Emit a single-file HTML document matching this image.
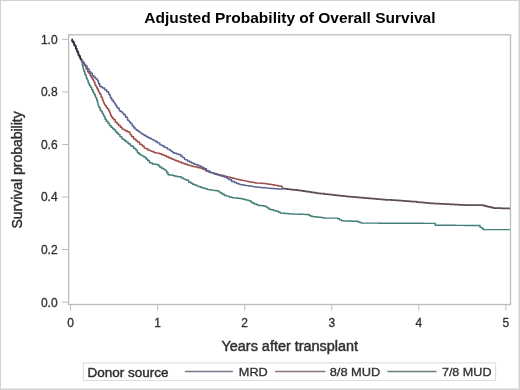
<!DOCTYPE html>
<html><head><meta charset="utf-8"><style>
html,body{margin:0;padding:0;background:#fff;}
svg{display:block;filter:blur(0.4px);}
text{font-family:"Liberation Sans",sans-serif;}
</style></head><body>
<svg width="520" height="390" viewBox="0 0 520 390">
<rect x="0" y="0" width="520" height="390" fill="#fff"/>
<line x1="518.5" y1="0" x2="518.5" y2="390" stroke="#e8e8e8"/>
<line x1="0" y1="388.5" x2="520" y2="388.5" stroke="#e8e8e8"/>
<rect x="0.5" y="0.5" width="519" height="389" fill="none" stroke="#d2d2d2" stroke-width="1"/>
<text x="144.3" y="22.6" font-size="15.5" font-weight="bold" fill="#000" textLength="291.2" lengthAdjust="spacingAndGlyphs">Adjusted Probability of Overall Survival</text>
<rect x="68.6" y="34.8" width="441.9" height="269.7" fill="none" stroke="#bcbcbc" stroke-width="1.3"/>
<g stroke="#bcbcbc" stroke-width="1"><line x1="62" y1="39.3" x2="68.5" y2="39.3"/><line x1="62" y1="91.9" x2="68.5" y2="91.9"/><line x1="62" y1="144.5" x2="68.5" y2="144.5"/><line x1="62" y1="197.0" x2="68.5" y2="197.0"/><line x1="62" y1="249.6" x2="68.5" y2="249.6"/><line x1="62" y1="302.2" x2="68.5" y2="302.2"/><line x1="70.6" y1="304.5" x2="70.6" y2="310.5"/><line x1="157.7" y1="304.5" x2="157.7" y2="310.5"/><line x1="244.7" y1="304.5" x2="244.7" y2="310.5"/><line x1="331.8" y1="304.5" x2="331.8" y2="310.5"/><line x1="418.8" y1="304.5" x2="418.8" y2="310.5"/><line x1="505.9" y1="304.5" x2="505.9" y2="310.5"/></g>
<g fill="none" stroke-width="1.45" stroke-linejoin="round" style="filter:blur(0.35px)">
<polyline points="81.20,59.60 81.42,59.60 81.42,61.33 81.63,61.33 81.79,61.33 81.79,62.61 81.95,62.61 82.28,62.61 82.28,65.20 82.60,65.20 82.72,65.20 82.72,66.23 82.85,66.23 83.11,66.23 83.11,68.43 83.38,68.43 83.59,68.43 83.59,70.20 83.80,70.20 84.03,70.20 84.03,71.40 84.26,71.40 84.76,71.40 84.76,73.97 85.26,73.97 85.48,73.97 85.48,75.10 85.70,75.10 86.29,75.10 86.29,77.92 86.88,77.92 87.19,77.92 87.19,79.40 87.50,79.40 87.70,79.40 87.70,80.73 87.89,80.73 88.25,80.73 88.25,83.10 88.60,83.10 89.28,83.10 89.28,85.32 89.96,85.32 90.23,85.32 90.23,86.20 90.50,86.20 90.83,86.20 90.83,87.52 91.16,87.52 91.73,87.52 91.73,89.80 92.30,89.80 92.86,89.80 92.86,91.96 93.41,91.96 93.81,91.96 93.81,93.50 94.20,93.50 94.52,93.50 94.52,94.82 94.84,94.82 95.42,94.82 95.42,97.20 96.00,97.20 96.15,97.20 96.15,97.95 96.29,97.95 96.75,97.95 96.75,100.30 97.20,100.30 97.48,100.30 97.48,102.73 97.77,102.73 97.98,102.73 97.98,104.60 98.20,104.60 98.45,104.60 98.45,105.88 98.70,105.88 99.05,105.88 99.05,107.70 99.40,107.70 100.19,107.70 100.19,110.33 100.99,110.33 101.34,110.33 101.34,111.50 101.70,111.50 102.26,111.50 102.26,113.39 102.82,113.39 103.41,113.39 103.41,115.40 104.00,115.40 104.33,115.40 104.33,117.09 104.67,117.09 105.08,117.09 105.08,119.20 105.50,119.20 106.28,119.20 106.28,121.16 107.06,121.16 107.83,121.16 107.83,123.10 108.60,123.10 109.40,123.10 109.40,125.40 110.20,125.40 111.06,125.40 111.06,127.17 111.91,127.17 112.56,127.17 112.56,128.50 113.20,128.50 113.86,128.50 113.86,129.82 114.52,129.82 115.46,129.82 115.46,131.70 116.40,131.70 117.10,131.70 117.10,133.24 117.81,133.24 118.37,133.24 118.37,134.48 118.94,134.48 119.95,134.48 119.95,136.68 120.95,136.68 121.88,136.68 121.88,138.70 122.80,138.70 123.32,138.70 123.32,139.53 123.84,139.53 124.66,139.53 124.66,140.83 125.48,140.83 126.25,140.83 126.25,142.06 127.02,142.06 128.11,142.06 128.11,143.80 129.20,143.80 130.19,143.80 130.19,145.40 131.17,145.40 131.75,145.40 131.75,146.34 132.32,146.34 133.54,146.34 133.54,148.32 134.76,148.32 135.18,148.32 135.18,149.00 135.60,149.00 136.13,149.00 136.13,150.55 136.66,150.55 137.43,150.55 137.43,152.80 138.20,152.80 139.10,152.80 139.10,154.20 140.00,154.20 140.95,154.20 140.95,155.36 141.91,155.36 142.34,155.36 142.34,155.89 142.77,155.89 143.94,155.89 143.94,157.30 145.10,157.30 145.99,157.30 145.99,159.04 146.88,159.04 147.61,159.04 147.61,160.48 148.34,160.48 149.32,160.48 149.32,162.40 150.30,162.40 150.88,162.40 150.88,163.02 151.46,163.02 152.38,163.02 152.38,164.00 153.30,164.00 154.33,164.00 154.33,164.25 155.37,164.25 156.38,164.25 156.38,164.50 157.40,164.50 158.02,164.50 158.02,165.51 158.65,165.51 159.57,165.51 159.57,167.00 160.50,167.00 161.56,167.00 161.56,168.29 162.61,168.29 163.28,168.29 163.28,169.10 163.95,169.10 164.77,169.10 164.77,170.10 165.60,170.10 165.85,170.10 165.85,170.85 166.11,170.85 166.77,170.85 166.77,172.83 167.44,172.83 168.07,172.83 168.07,174.70 168.70,174.70 169.80,174.70 169.80,175.02 170.89,175.02 171.85,175.02 171.85,175.30 172.80,175.30 173.52,175.30 173.52,175.76 174.23,175.76 175.07,175.76 175.07,176.30 175.90,176.30 177.41,176.30 177.41,176.67 178.93,176.67 179.46,176.67 179.46,176.80 180.00,176.80 181.32,176.80 181.32,178.07 182.64,178.07 183.47,178.07 183.47,178.88 184.30,178.88 185.05,178.88 185.05,179.60 185.80,179.60 186.40,179.60 186.40,180.31 186.99,180.31 188.66,180.31 188.66,182.31 190.33,182.31 191.04,182.31 191.04,183.15 191.74,183.15 192.62,183.15 192.62,184.20 193.50,184.20 194.39,184.20 194.39,184.92 195.28,184.92 196.77,184.92 196.77,186.11 198.25,186.11 198.76,186.11 198.76,186.52 199.27,186.52 200.24,186.52 200.24,187.30 201.20,187.30 201.95,187.30 201.95,187.76 202.71,187.76 203.75,187.76 203.75,188.39 204.79,188.39 205.77,188.39 205.77,188.98 206.75,188.98 207.78,188.98 207.78,189.60 208.80,189.60 209.40,189.60 209.40,189.76 209.99,189.76 210.72,189.76 210.72,189.96 211.45,189.96 212.13,189.96 212.13,190.14 212.81,190.14 213.99,190.14 213.99,190.46 215.18,190.46 216.44,190.46 216.44,190.80 217.70,190.80 218.58,190.80 218.58,191.85 219.45,191.85 220.38,191.85 220.38,192.95 221.30,192.95 222.32,192.95 222.32,194.17 223.35,194.17 224.37,194.17 224.37,195.40 225.40,195.40 226.56,195.40 226.56,196.10 227.73,196.10 229.04,196.10 229.04,196.90 230.35,196.90 231.19,196.90 231.19,197.41 232.04,197.41 232.52,197.41 232.52,197.70 233.00,197.70 233.81,197.70 233.81,197.87 234.61,197.87 235.36,197.87 235.36,198.02 236.12,198.02 237.08,198.02 237.08,198.22 238.04,198.22 239.42,198.22 239.42,198.50 240.80,198.50 241.92,198.50 241.92,199.06 243.03,199.06 243.96,199.06 243.96,199.52 244.88,199.52 245.92,199.52 245.92,200.04 246.96,200.04 248.06,200.04 248.06,200.59 249.16,200.59 249.58,200.59 249.58,200.80 250.00,200.80 250.79,200.80 250.79,201.96 251.58,201.96 252.29,201.96 252.29,203.00 253.00,203.00 254.22,203.00 254.22,203.95 255.44,203.95 256.59,203.95 256.59,204.83 257.73,204.83 258.47,204.83 258.47,205.40 259.20,205.40 260.19,205.40 260.19,205.57 261.19,205.57 261.78,205.57 261.78,205.67 262.37,205.67 263.69,205.67 263.69,205.90 265.00,205.90 265.74,205.90 265.74,206.88 266.48,206.88 267.23,206.88 267.23,207.86 267.97,207.86 268.99,207.86 268.99,209.20 270.00,209.20 271.00,209.20 271.00,209.75 271.99,209.75 273.35,209.75 273.35,210.50 274.70,210.50 275.48,210.50 275.48,210.93 276.26,210.93 276.93,210.93 276.93,211.30 277.60,211.30 278.55,211.30 278.55,212.25 279.50,212.25 280.35,212.25 280.35,213.10 281.20,213.10 282.07,213.10 282.07,213.25 282.94,213.25 283.39,213.25 283.39,213.32 283.84,213.32 285.35,213.32 285.35,213.58 286.86,213.58 288.05,213.58 288.05,213.78 289.23,213.78 289.83,213.78 289.83,213.88 290.44,213.88 291.17,213.88 291.17,214.00 291.90,214.00 292.71,214.00 292.71,214.05 293.52,214.05 294.35,214.05 294.35,214.10 295.18,214.10 295.72,214.10 295.72,214.13 296.26,214.13 297.67,214.13 297.67,214.22 299.07,214.22 300.65,214.22 300.65,214.32 302.23,214.32 303.18,214.32 303.18,214.38 304.13,214.38 305.10,214.38 305.10,214.44 306.07,214.44 306.57,214.44 306.57,214.47 307.06,214.47 307.58,214.47 307.58,214.50 308.10,214.50 309.06,214.50 309.06,215.46 310.01,215.46 310.86,215.46 310.86,216.30 311.70,216.30 313.11,216.30 313.11,216.66 314.53,216.66 315.13,216.66 315.13,216.81 315.73,216.81 316.17,216.81 316.17,216.92 316.60,216.92 318.16,216.92 318.16,217.31 319.73,217.31 320.77,217.31 320.77,217.57 321.82,217.57 322.41,217.57 322.41,217.72 322.99,217.72 324.06,217.72 324.06,217.99 325.12,217.99 325.56,217.99 325.56,218.10 326.00,218.10 326.85,218.10 326.85,218.10 327.69,218.10 328.98,218.10 328.98,218.10 330.27,218.10 331.45,218.10 331.45,218.10 332.63,218.10 333.64,218.10 333.64,218.10 334.65,218.10 335.24,218.10 335.24,218.10 335.82,218.10 336.51,218.10 336.51,218.10 337.20,218.10 337.75,218.10 337.75,218.65 338.29,218.65 339.50,218.65 339.50,219.85 340.71,219.85 341.65,219.85 341.65,220.80 342.60,220.80 343.56,220.80 343.56,220.87 344.52,220.87 345.10,220.87 345.10,220.91 345.67,220.91 346.15,220.91 346.15,220.94 346.63,220.94 347.62,220.94 347.62,221.01 348.61,221.01 349.75,221.01 349.75,221.09 350.89,221.09 351.91,221.09 351.91,221.16 352.94,221.16 353.92,221.16 353.92,221.23 354.91,221.23 355.90,221.23 355.90,221.30 356.90,221.30 358.07,221.30 358.07,222.08 359.23,222.08 359.84,222.08 359.84,222.48 360.45,222.48 361.38,222.48 361.38,223.10 362.30,223.10 363.04,223.10 363.04,223.10 363.77,223.10 364.16,223.10 364.16,223.11 364.55,223.11 364.93,223.11 364.93,223.11 365.32,223.11 365.97,223.11 365.97,223.11 366.63,223.11 367.26,223.11 367.26,223.11 367.90,223.11 368.99,223.11 368.99,223.12 370.09,223.12 371.47,223.12 371.47,223.13 372.85,223.13 373.68,223.13 373.68,223.13 374.51,223.13 375.87,223.13 375.87,223.14 377.23,223.14 378.64,223.14 378.64,223.15 380.05,223.15 381.43,223.15 381.43,223.15 382.81,223.15 383.55,223.15 383.55,223.16 384.30,223.16 384.89,223.16 384.89,223.16 385.48,223.16 386.08,223.16 386.08,223.16 386.68,223.16 387.25,223.16 387.25,223.17 387.81,223.17 388.39,223.17 388.39,223.17 388.96,223.17 389.99,223.17 389.99,223.18 391.01,223.18 392.33,223.18 392.33,223.18 393.65,223.18 394.90,223.18 394.90,223.19 396.15,223.19 397.02,223.19 397.02,223.19 397.89,223.19 398.95,223.19 398.95,223.20 400.00,223.20 401.16,223.20 401.16,223.21 402.33,223.21 402.76,223.21 402.76,223.22 403.19,223.22 404.21,223.22 404.21,223.23 405.23,223.23 406.51,223.23 406.51,223.25 407.78,223.25 408.93,223.25 408.93,223.26 410.08,223.26 411.19,223.26 411.19,223.27 412.30,223.27 413.14,223.27 413.14,223.28 413.97,223.28 414.50,223.28 414.50,223.29 415.02,223.29 416.18,223.29 416.18,223.30 417.33,223.30 418.01,223.30 418.01,223.31 418.70,223.31 419.86,223.31 419.86,223.32 421.03,223.32 422.37,223.32 422.37,223.34 423.71,223.34 424.46,223.34 424.46,223.35 425.21,223.35 425.96,223.35 425.96,223.35 426.72,223.35 428.03,223.35 428.03,223.37 429.35,223.37 430.44,223.37 430.44,223.38 431.52,223.38 432.04,223.38 432.04,223.39 432.56,223.39 433.03,223.39 433.03,223.39 433.50,223.39 434.00,223.39 434.00,223.40 434.50,223.40 435.25,223.40 435.25,225.20 436.00,225.20 437.22,225.20 437.22,225.22 438.43,225.22 438.94,225.22 438.94,225.22 439.45,225.22 440.69,225.22 440.69,225.24 441.93,225.24 443.33,225.24 443.33,225.26 444.73,225.26 445.79,225.26 445.79,225.28 446.84,225.28 447.57,225.28 447.57,225.29 448.30,225.29 449.24,225.29 449.24,225.30 450.18,225.30 450.68,225.30 450.68,225.31 451.17,225.31 451.54,225.31 451.54,225.31 451.91,225.31 453.31,225.31 453.31,225.33 454.70,225.33 455.74,225.33 455.74,225.35 456.79,225.35 457.71,225.35 457.71,225.36 458.63,225.36 459.98,225.36 459.98,225.38 461.33,225.38 462.15,225.38 462.15,225.39 462.97,225.39 464.25,225.39 464.25,225.41 465.54,225.41 466.77,225.41 466.77,225.42 468.01,225.42 468.59,225.42 468.59,225.43 469.17,225.43 469.79,225.43 469.79,225.44 470.42,225.44 471.09,225.44 471.09,225.45 471.75,225.45 472.37,225.45 472.37,225.46 472.98,225.46 473.96,225.46 473.96,225.47 474.94,225.47 475.57,225.47 475.57,225.48 476.20,225.48 477.01,225.48 477.01,225.49 477.81,225.49 478.30,225.49 478.30,225.50 478.80,225.50 480.03,225.50 480.03,227.37 481.27,227.37 481.95,227.37 481.95,228.41 482.63,228.41 483.41,228.41 483.41,229.60 484.20,229.60 485.25,229.60 485.25,229.60 486.31,229.60 487.73,229.60 487.73,229.60 489.15,229.60 490.02,229.60 490.02,229.60 490.88,229.60 492.32,229.60 492.32,229.60 493.76,229.60 494.72,229.60 494.72,229.60 495.68,229.60 496.67,229.60 496.67,229.60 497.66,229.60 498.65,229.60 498.65,229.60 499.63,229.60 500.04,229.60 500.04,229.60 500.44,229.60 501.33,229.60 501.33,229.60 502.22,229.60 502.81,229.60 502.81,229.60 503.41,229.60 503.79,229.60 503.79,229.60 504.18,229.60 505.48,229.60 505.48,229.60 506.78,229.60 507.36,229.60 507.36,229.60 507.95,229.60 508.87,229.60 508.87,229.60 509.80,229.60" stroke="#427f78"/>
<polyline points="81.20,59.60 81.78,59.60 81.78,61.27 82.35,61.27 82.78,61.27 82.78,62.50 83.20,62.50 83.85,62.50 83.85,64.50 84.50,64.50 84.88,64.50 84.88,65.90 85.26,65.90 86.08,65.90 86.08,68.90 86.90,68.90 87.70,68.90 87.70,71.66 88.50,71.66 88.95,71.66 88.95,73.20 89.40,73.20 90.16,73.20 90.16,75.84 90.93,75.84 91.26,75.84 91.26,77.00 91.60,77.00 92.22,77.00 92.22,78.97 92.85,78.97 93.17,78.97 93.17,80.00 93.50,80.00 93.68,80.00 93.68,80.91 93.86,80.91 94.19,80.91 94.19,82.52 94.51,82.52 95.00,82.52 95.00,85.00 95.50,85.00 95.88,85.00 95.88,86.35 96.27,86.35 96.73,86.35 96.73,88.00 97.20,88.00 97.52,88.00 97.52,89.33 97.84,89.33 98.27,89.33 98.27,91.10 98.70,91.10 99.14,91.10 99.14,92.82 99.59,92.82 99.94,92.82 99.94,94.20 100.30,94.20 101.04,94.20 101.04,96.99 101.77,96.99 101.99,96.99 101.99,97.80 102.20,97.80 102.50,97.80 102.50,100.00 102.80,100.00 103.20,100.00 103.20,101.85 103.60,101.85 103.91,101.85 103.91,103.26 104.22,103.26 104.51,103.26 104.51,104.60 104.80,104.60 105.21,104.60 105.21,105.71 105.62,105.71 106.36,105.71 106.36,107.70 107.10,107.70 107.51,107.70 107.51,108.82 107.93,108.82 108.66,108.82 108.66,110.80 109.40,110.80 109.68,110.80 109.68,112.55 109.97,112.55 110.18,112.55 110.18,113.82 110.38,113.82 110.64,113.82 110.64,115.40 110.90,115.40 111.48,115.40 111.48,116.96 112.05,116.96 112.63,116.96 112.63,118.50 113.20,118.50 113.74,118.50 113.74,119.82 114.28,119.82 115.29,119.82 115.29,122.30 116.30,122.30 117.14,122.30 117.14,123.97 117.97,123.97 118.69,123.97 118.69,125.40 119.40,125.40 120.32,125.40 120.32,127.34 121.23,127.34 122.02,127.34 122.02,129.00 122.80,129.00 123.40,129.00 123.40,129.62 124.00,129.62 125.07,129.62 125.07,130.72 126.14,130.72 127.12,130.72 127.12,131.73 128.10,131.73 128.65,131.73 128.65,132.30 129.20,132.30 130.02,132.30 130.02,134.61 130.84,134.61 131.62,134.61 131.62,136.80 132.40,136.80 133.61,136.80 133.61,138.93 134.82,138.93 135.89,138.93 135.89,140.80 136.95,140.80 137.58,140.80 137.58,141.90 138.20,141.90 139.61,141.90 139.61,144.21 141.03,144.21 141.51,144.21 141.51,145.00 142.00,145.00 142.63,145.00 142.63,146.26 143.26,146.26 144.18,146.26 144.18,148.10 145.10,148.10 145.85,148.10 145.85,148.82 146.60,148.82 147.87,148.82 147.87,150.05 149.15,150.05 149.72,150.05 149.72,150.60 150.30,150.60 151.15,150.60 151.15,151.30 152.00,151.30 152.93,151.30 152.93,152.07 153.86,152.07 154.63,152.07 154.63,152.70 155.40,152.70 156.47,152.70 156.47,153.12 157.54,153.12 158.11,153.12 158.11,153.34 158.68,153.34 159.59,153.34 159.59,153.70 160.50,153.70 161.40,153.70 161.40,154.44 162.30,154.44 163.18,154.44 163.18,155.17 164.07,155.17 164.83,155.17 164.83,155.80 165.60,155.80 166.54,155.80 166.54,156.70 167.47,156.70 168.49,156.70 168.49,157.68 169.51,157.68 170.16,157.68 170.16,158.30 170.80,158.30 171.85,158.30 171.85,159.16 172.90,159.16 173.31,159.16 173.31,159.50 173.72,159.50 174.81,159.50 174.81,160.40 175.90,160.40 176.77,160.40 176.77,161.04 177.64,161.04 178.82,161.04 178.82,161.90 180.00,161.90 181.34,161.90 181.34,162.97 182.69,162.97 183.41,162.97 183.41,163.54 184.13,163.54 184.96,163.54 184.96,164.20 185.80,164.20 187.25,164.20 187.25,165.07 188.71,165.07 189.22,165.07 189.22,165.38 189.74,165.38 190.89,165.38 190.89,166.07 192.05,166.07 192.77,166.07 192.77,166.50 193.50,166.50 194.22,166.50 194.22,166.80 194.94,166.80 195.57,166.80 195.57,167.06 196.20,167.06 197.96,167.06 197.96,167.79 199.72,167.79 200.46,167.79 200.46,168.10 201.20,168.10 201.89,168.10 201.89,168.76 202.58,168.76 203.44,168.76 203.44,169.58 204.30,169.58 205.73,169.58 205.73,170.94 207.16,170.94 207.65,170.94 207.65,171.41 208.14,171.41 209.07,171.41 209.07,172.30 210.00,172.30 210.68,172.30 210.68,172.63 211.36,172.63 212.29,172.63 212.29,173.07 213.23,173.07 214.11,173.07 214.11,173.50 215.00,173.50 216.08,173.50 216.08,174.06 217.16,174.06 217.71,174.06 217.71,174.35 218.27,174.35 218.94,174.35 218.94,174.70 219.62,174.70 220.24,174.70 220.24,175.02 220.87,175.02 221.97,175.02 221.97,175.59 223.07,175.59 224.23,175.59 224.23,176.20 225.40,176.20 226.07,176.20 226.07,176.53 226.74,176.53 227.45,176.53 227.45,176.88 228.16,176.88 228.94,176.88 228.94,177.27 229.72,177.27 230.51,177.27 230.51,177.65 231.30,177.65 232.43,177.65 232.43,178.21 233.57,178.21 234.84,178.21 234.84,178.85 236.12,178.85 236.95,178.85 236.95,179.25 237.78,179.25 238.25,179.25 238.25,179.49 238.71,179.49 239.76,179.49 239.76,180.00 240.80,180.00 241.49,180.00 241.49,180.27 242.18,180.27 243.07,180.27 243.07,180.61 243.95,180.61 245.22,180.61 245.22,181.11 246.49,181.11 247.49,181.11 247.49,181.50 248.50,181.50 249.52,181.50 249.52,181.90 250.54,181.90 251.69,181.90 251.69,182.34 252.84,182.34 254.05,182.34 254.05,182.82 255.27,182.82 255.73,182.82 255.73,183.00 256.20,183.00 257.20,183.00 257.20,183.11 258.21,183.11 259.11,183.11 259.11,183.22 260.02,183.22 261.00,183.22 261.00,183.33 261.98,183.33 262.90,183.33 262.90,183.43 263.82,183.43 264.41,183.43 264.41,183.50 265.00,183.50 265.86,183.50 265.86,183.77 266.71,183.77 267.22,183.77 267.22,183.94 267.74,183.94 268.87,183.94 268.87,184.30 270.00,184.30 270.77,184.30 270.77,184.56 271.53,184.56 272.31,184.56 272.31,184.82 273.08,184.82 274.13,184.82 274.13,185.18 275.18,185.18 276.14,185.18 276.14,185.50 277.10,185.50 278.40,185.50 278.40,185.95 279.71,185.95 280.45,185.95 280.45,186.20 281.20,186.20 282.10,186.20 282.10,188.00 283.00,188.00" stroke="#9a5048"/>
<polyline points="81.20,59.60 81.86,59.60 81.86,61.27 82.52,61.27 83.01,61.27 83.01,62.50 83.50,62.50 84.30,62.50 84.30,64.50 85.10,64.50 85.59,64.50 85.59,65.90 86.09,65.90 87.14,65.90 87.14,68.90 88.20,68.90 89.16,68.90 89.16,71.66 90.12,71.66 90.66,71.66 90.66,73.20 91.20,73.20 92.28,73.20 92.28,75.77 93.35,75.77 93.83,75.77 93.83,76.90 94.30,76.90 95.32,76.90 95.32,78.54 96.33,78.54 96.87,78.54 96.87,79.40 97.40,79.40 97.70,79.40 97.70,80.94 98.01,80.94 98.55,80.94 98.55,83.70 99.10,83.70 99.70,83.70 99.70,86.20 100.30,86.20 101.00,86.20 101.00,87.01 101.70,87.01 102.55,87.01 102.55,88.00 103.40,88.00 104.60,88.00 104.60,89.80 105.80,89.80 106.75,89.80 106.75,91.70 107.70,91.70 108.60,91.70 108.60,94.20 109.50,94.20 109.73,94.20 109.73,95.49 109.97,95.49 110.38,95.49 110.38,97.80 110.80,97.80 111.65,97.80 111.65,100.00 112.50,100.00 113.26,100.00 113.26,102.04 114.01,102.04 114.41,102.04 114.41,103.10 114.80,103.10 115.39,103.10 115.39,105.05 115.98,105.05 116.54,105.05 116.54,106.90 117.10,106.90 117.66,106.90 117.66,108.30 118.21,108.30 119.21,108.30 119.21,110.80 120.20,110.80 120.74,110.80 120.74,111.63 121.28,111.63 122.24,111.63 122.24,113.10 123.20,113.10 123.95,113.10 123.95,115.00 124.70,115.00 125.56,115.00 125.56,117.29 126.42,117.29 127.50,117.29 127.50,120.14 128.57,120.14 129.06,120.14 129.06,121.43 129.54,121.43 130.02,121.43 130.02,122.70 130.50,122.70 130.96,122.70 130.96,123.87 131.43,123.87 132.30,123.87 132.30,126.06 133.17,126.06 133.83,126.06 133.83,127.70 134.48,127.70 135.04,127.70 135.04,129.10 135.60,129.10 136.45,129.10 136.45,130.29 137.30,130.29 138.02,130.29 138.02,131.31 138.75,131.31 139.33,131.31 139.33,132.14 139.92,132.14 140.96,132.14 140.96,133.60 142.00,133.60 142.99,133.60 142.99,134.76 143.99,134.76 144.54,134.76 144.54,135.41 145.10,135.41 145.97,135.41 145.97,136.43 146.85,136.43 147.67,136.43 147.67,137.40 148.50,137.40 149.42,137.40 149.42,138.32 150.34,138.32 151.15,138.32 151.15,139.13 151.96,139.13 152.43,139.13 152.43,139.60 152.90,139.60 153.90,139.60 153.90,140.60 154.90,140.60 155.53,140.60 155.53,141.44 156.17,141.44 157.22,141.44 157.22,142.85 158.28,142.85 159.81,142.85 159.81,144.89 161.34,144.89 162.02,144.89 162.02,145.80 162.70,145.80 163.82,145.80 163.82,147.04 164.95,147.04 165.46,147.04 165.46,147.60 165.96,147.60 167.33,147.60 167.33,149.10 168.70,149.10 169.57,149.10 169.57,150.33 170.44,150.33 171.16,150.33 171.16,151.35 171.88,151.35 172.84,151.35 172.84,152.70 173.80,152.70 174.57,152.70 174.57,153.20 175.34,153.20 176.57,153.20 176.57,153.99 177.79,153.99 178.90,153.99 178.90,154.70 180.00,154.70 180.92,154.70 180.92,156.26 181.84,156.26 182.64,156.26 182.64,157.60 183.43,157.60 184.62,157.60 184.62,159.60 185.80,159.60 187.22,159.60 187.22,161.03 188.63,161.03 189.52,161.03 189.52,161.94 190.42,161.94 191.52,161.94 191.52,163.06 192.63,163.06 193.06,163.06 193.06,163.50 193.50,163.50 194.39,163.50 194.39,164.19 195.27,164.19 196.11,164.19 196.11,164.84 196.95,164.84 198.09,164.84 198.09,165.73 199.22,165.73 200.21,165.73 200.21,166.50 201.20,166.50 202.07,166.50 202.07,167.58 202.94,167.58 203.96,167.58 203.96,168.83 204.97,168.83 206.38,168.83 206.38,170.58 207.80,170.58 208.30,170.58 208.30,171.20 208.80,171.20 210.21,171.20 210.21,172.47 211.62,172.47 212.51,172.47 212.51,173.28 213.40,173.28 214.20,173.28 214.20,174.00 215.00,174.00 215.46,174.00 215.46,174.26 215.91,174.26 217.20,174.26 217.20,175.00 218.48,175.00 219.02,175.00 219.02,175.31 219.56,175.31 220.23,175.31 220.23,175.70 220.91,175.70 221.75,175.70 221.75,176.19 222.59,176.19 224.00,176.19 224.00,177.00 225.40,177.00 225.88,177.00 225.88,177.57 226.35,177.57 227.26,177.57 227.26,178.63 228.16,178.63 229.18,178.63 229.18,179.84 230.19,179.84 231.60,179.84 231.60,181.50 233.00,181.50 234.21,181.50 234.21,182.46 235.42,182.46 236.68,182.46 236.68,183.46 237.94,183.46 238.58,183.46 238.58,183.97 239.23,183.97 240.01,183.97 240.01,184.60 240.80,184.60 241.52,184.60 241.52,184.83 242.25,184.83 243.52,184.83 243.52,185.22 244.79,185.22 246.14,185.22 246.14,185.64 247.49,185.64 247.99,185.64 247.99,185.80 248.50,185.80 249.30,185.80 249.30,186.05 250.10,186.05 250.98,186.05 250.98,186.32 251.86,186.32 252.75,186.32 252.75,186.60 253.64,186.60 254.92,186.60 254.92,187.00 256.20,187.00 257.18,187.00 257.18,187.18 258.15,187.18 258.78,187.18 258.78,187.30 259.41,187.30 259.77,187.30 259.77,187.37 260.13,187.37 260.92,187.37 260.92,187.52 261.72,187.52 262.46,187.52 262.46,187.66 263.21,187.66 264.16,187.66 264.16,187.84 265.11,187.84 266.47,187.84 266.47,188.10 267.83,188.10 268.92,188.10 268.92,188.30 270.00,188.30 270.90,188.30 270.90,188.41 271.80,188.41 272.81,188.41 272.81,188.54 273.82,188.54 274.89,188.54 274.89,188.68 275.96,188.68 276.37,188.68 276.37,188.73 276.78,188.73 278.09,188.73 278.09,188.90 279.40,188.90 280.26,188.90 280.26,188.95 281.13,188.95 282.06,188.95 282.06,189.00 283.00,189.00" stroke="#5a6394"/>
<polyline points="283.00,188.50 283.91,188.50 283.91,188.71 284.82,188.71 285.49,188.71 285.49,188.87 286.16,188.87 287.52,188.87 287.52,189.19 288.88,189.19 289.44,189.19 289.44,189.32 290.00,189.32 291.21,189.32 291.21,189.60 292.41,189.60 293.38,189.60 293.38,189.83 294.34,189.83 294.88,189.83 294.88,189.96 295.43,189.96 296.59,189.96 296.59,190.23 297.75,190.23 298.26,190.23 298.26,190.35 298.78,190.35 299.84,190.35 299.84,190.60 300.90,190.60 301.37,190.60 301.37,190.74 301.85,190.74 302.35,190.74 302.35,190.89 302.85,190.89 303.74,190.89 303.74,191.16 304.63,191.16 306.00,191.16 306.00,191.57 307.37,191.57 307.91,191.57 307.91,191.73 308.44,191.73 309.10,191.73 309.10,191.93 309.75,191.93 310.89,191.93 310.89,192.27 312.02,192.27 313.53,192.27 313.53,192.72 315.04,192.72 316.11,192.72 316.11,193.04 317.18,193.04 318.04,193.04 318.04,193.30 318.90,193.30 320.46,193.30 320.46,193.63 322.03,193.63 322.48,193.63 322.48,193.73 322.94,193.73 324.36,193.73 324.36,194.03 325.78,194.03 326.53,194.03 326.53,194.18 327.27,194.18 327.84,194.18 327.84,194.30 328.41,194.30 328.95,194.30 328.95,194.42 329.49,194.42 330.26,194.42 330.26,194.58 331.03,194.58 332.40,194.58 332.40,194.87 333.77,194.87 334.39,194.87 334.39,195.00 335.00,195.00 336.24,195.00 336.24,195.29 337.48,195.29 338.79,195.29 338.79,195.59 340.11,195.59 341.06,195.59 341.06,195.81 342.02,195.81 343.21,195.81 343.21,196.09 344.40,196.09 344.94,196.09 344.94,196.21 345.48,196.21 346.01,196.21 346.01,196.33 346.54,196.33 347.27,196.33 347.27,196.50 348.00,196.50 349.08,196.50 349.08,196.68 350.16,196.68 350.97,196.68 350.97,196.82 351.78,196.82 352.47,196.82 352.47,196.93 353.16,196.93 354.14,196.93 354.14,197.10 355.11,197.10 355.95,197.10 355.95,197.24 356.79,197.24 357.46,197.24 357.46,197.35 358.14,197.35 359.34,197.35 359.34,197.55 360.54,197.55 361.64,197.55 361.64,197.73 362.74,197.73 363.35,197.73 363.35,197.84 363.97,197.84 364.93,197.84 364.93,198.00 365.90,198.00 366.79,198.00 366.79,198.16 367.68,198.16 368.94,198.16 368.94,198.38 370.19,198.38 371.30,198.38 371.30,198.58 372.40,198.58 373.05,198.58 373.05,198.69 373.69,198.69 375.06,198.69 375.06,198.94 376.42,198.94 376.89,198.94 376.89,199.02 377.36,199.02 378.14,199.02 378.14,199.16 378.92,199.16 380.05,199.16 380.05,199.36 381.18,199.36 381.69,199.36 381.69,199.45 382.19,199.45 383.05,199.45 383.05,199.60 383.90,199.60 384.27,199.60 384.27,199.64 384.64,199.64 385.64,199.64 385.64,199.75 386.63,199.75 387.72,199.75 387.72,199.87 388.81,199.87 389.71,199.87 389.71,199.98 390.61,199.98 391.81,199.98 391.81,200.11 393.01,200.11 393.66,200.11 393.66,200.18 394.30,200.18 395.32,200.18 395.32,200.30 396.34,200.30 397.26,200.30 397.26,200.40 398.19,200.40 399.09,200.40 399.09,200.50 400.00,200.50 400.79,200.50 400.79,200.62 401.59,200.62 402.76,200.62 402.76,200.80 403.94,200.80 405.22,200.80 405.22,201.00 406.51,201.00 407.32,201.00 407.32,201.13 408.13,201.13 409.13,201.13 409.13,201.28 410.13,201.28 410.53,201.28 410.53,201.34 410.92,201.34 411.96,201.34 411.96,201.50 413.00,201.50 414.11,201.50 414.11,201.72 415.22,201.72 416.72,201.72 416.72,202.03 418.22,202.03 419.53,202.03 419.53,202.29 420.84,202.29 421.54,202.29 421.54,202.43 422.24,202.43 423.05,202.43 423.05,202.59 423.87,202.59 425.00,202.59 425.00,202.82 426.14,202.82 426.54,202.82 426.54,202.90 426.94,202.90 427.84,202.90 427.84,203.08 428.74,203.08 429.31,203.08 429.31,203.20 429.88,203.20 430.39,203.20 430.39,203.30 430.90,203.30 431.35,203.30 431.35,203.35 431.81,203.35 433.09,203.35 433.09,203.47 434.36,203.47 434.90,203.47 434.90,203.53 435.44,203.53 436.11,203.53 436.11,203.59 436.78,203.59 437.62,203.59 437.62,203.68 438.46,203.68 439.86,203.68 439.86,203.82 441.26,203.82 441.74,203.82 441.74,203.87 442.22,203.87 443.12,203.87 443.12,203.96 444.03,203.96 445.06,203.96 445.06,204.06 446.08,204.06 447.49,204.06 447.49,204.20 448.90,204.20 450.07,204.20 450.07,204.32 451.25,204.32 452.47,204.32 452.47,204.44 453.69,204.44 454.31,204.44 454.31,204.50 454.93,204.50 455.69,204.50 455.69,204.58 456.46,204.58 457.16,204.58 457.16,204.65 457.87,204.65 459.11,204.65 459.11,204.77 460.35,204.77 461.66,204.77 461.66,204.90 462.98,204.90 463.47,204.90 463.47,204.95 463.96,204.95 464.48,204.95 464.48,205.00 465.00,205.00 465.78,205.00 465.78,205.00 466.55,205.00 467.33,205.00 467.33,205.00 468.11,205.00 469.23,205.00 469.23,205.00 470.35,205.00 471.62,205.00 471.62,205.00 472.88,205.00 473.70,205.00 473.70,205.00 474.52,205.00 474.98,205.00 474.98,205.00 475.44,205.00 476.47,205.00 476.47,205.00 477.50,205.00 478.47,205.00 478.47,205.00 479.43,205.00 480.67,205.00 480.67,205.00 481.90,205.00 483.14,205.00 483.14,205.61 484.38,205.61 485.37,205.61 485.37,206.10 486.36,206.10 487.18,206.10 487.18,206.50 488.00,206.50 488.93,206.50 488.93,206.92 489.86,206.92 490.85,206.92 490.85,207.38 491.83,207.38 492.21,207.38 492.21,207.55 492.59,207.55 493.79,207.55 493.79,208.10 495.00,208.10 496.23,208.10 496.23,208.17 497.46,208.17 498.79,208.17 498.79,208.24 500.12,208.24 501.37,208.24 501.37,208.31 502.61,208.31 503.41,208.31 503.41,208.35 504.21,208.35 505.02,208.35 505.02,208.39 505.83,208.39 506.31,208.39 506.31,208.42 506.79,208.42 507.86,208.42 507.86,208.48 508.93,208.48 509.36,208.48 509.36,208.50 509.80,208.50" stroke="#5e4e58" stroke-width="1.75"/>
<polyline points="71.60,39.30 72.15,39.30 72.15,41.14 72.69,41.14 73.10,41.14 73.10,42.50 73.50,42.50 74.14,42.50 74.14,44.98 74.77,44.98 75.04,44.98 75.04,46.00 75.30,46.00 75.83,46.00 75.83,48.66 76.36,48.66 76.79,48.66 76.79,50.80 77.22,50.80 77.46,50.80 77.46,52.00 77.70,52.00 78.32,52.00 78.32,54.78 78.95,54.78 79.22,54.78 79.22,56.00 79.50,56.00 80.06,56.00 80.06,58.36 80.61,58.36 80.91,58.36 80.91,59.60 81.20,59.60" stroke="#2b2b3a" stroke-width="1.8"/>
</g>
<g font-size="12" fill="#303030" stroke="#303030" stroke-width="0.3"><text x="57.6" y="43.6" text-anchor="end">1.0</text><text x="57.6" y="96.2" text-anchor="end">0.8</text><text x="57.6" y="148.8" text-anchor="end">0.6</text><text x="57.6" y="201.3" text-anchor="end">0.4</text><text x="57.6" y="253.9" text-anchor="end">0.2</text><text x="57.6" y="306.5" text-anchor="end">0.0</text><text x="70.6" y="326.6" text-anchor="middle">0</text><text x="157.7" y="326.6" text-anchor="middle">1</text><text x="244.7" y="326.6" text-anchor="middle">2</text><text x="331.8" y="326.6" text-anchor="middle">3</text><text x="418.8" y="326.6" text-anchor="middle">4</text><text x="505.9" y="326.6" text-anchor="middle">5</text></g>
<g fill="#303030" stroke="#303030" stroke-width="0.45">
<text transform="translate(21.9,228.6) rotate(-90)" font-size="14" textLength="117.3" lengthAdjust="spacingAndGlyphs">Survival probability</text>
<text x="221.5" y="350.6" font-size="14" textLength="136.6" lengthAdjust="spacingAndGlyphs">Years after transplant</text>
<text x="87.6" y="376.6" font-size="13.5" textLength="81" lengthAdjust="spacingAndGlyphs">Donor source</text>
</g>
<rect x="83.4" y="362.9" width="412.2" height="17.5" fill="none" stroke="#dedede" stroke-width="1.1"/>
<line x1="184.8" y1="371.6" x2="232.9" y2="371.6" stroke="#737a8c" stroke-width="1.5"/>
<line x1="275" y1="371.6" x2="325.5" y2="371.6" stroke="#8c7674" stroke-width="1.5"/>
<line x1="387.4" y1="371.6" x2="436.5" y2="371.6" stroke="#667e7b" stroke-width="1.5"/>
<g font-size="11.6" fill="#303030" stroke="#303030" stroke-width="0.3">
<text x="238.8" y="375.8" textLength="29" lengthAdjust="spacingAndGlyphs">MRD</text>
<text x="329.7" y="375.8" textLength="50.6" lengthAdjust="spacingAndGlyphs">8/8 MUD</text>
<text x="441.9" y="375.8" textLength="49.6" lengthAdjust="spacingAndGlyphs">7/8 MUD</text>
</g>
</svg>
</body></html>
